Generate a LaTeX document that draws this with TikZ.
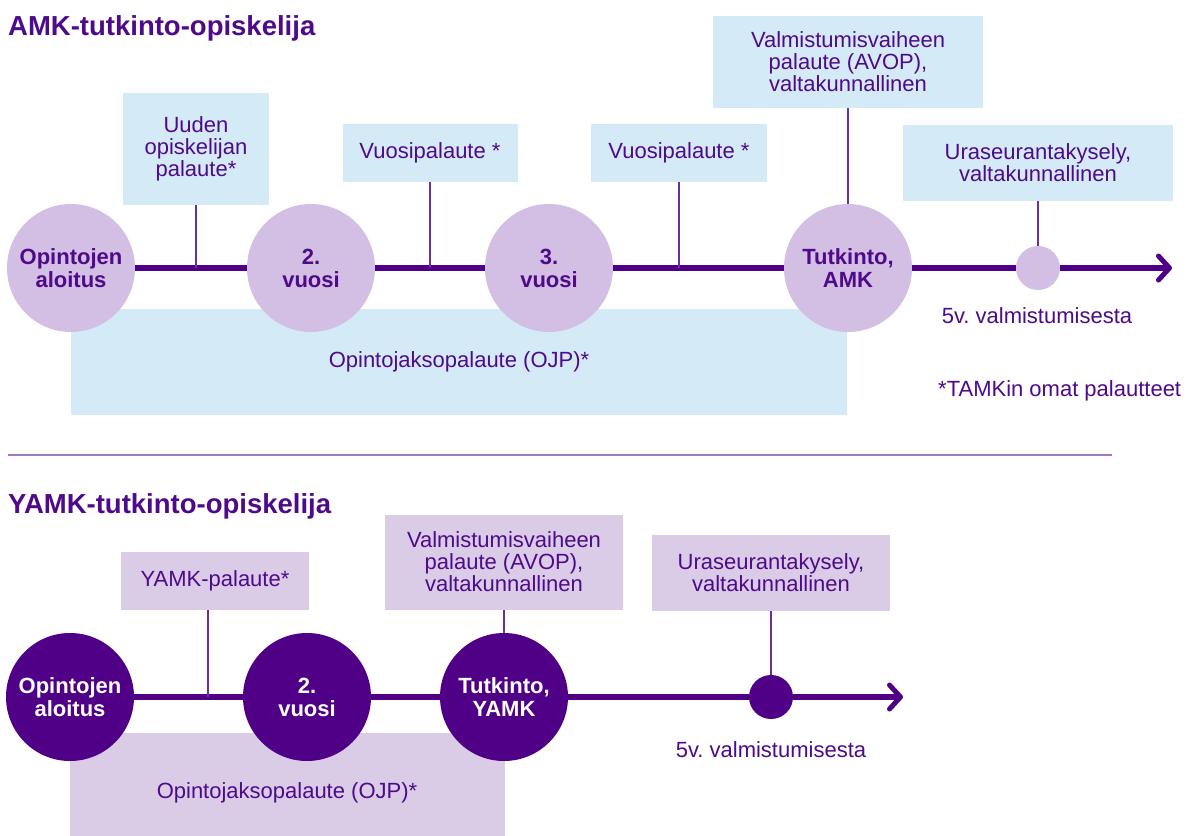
\documentclass[tikz,border=0pt]{standalone}
\usepackage{fontspec}
\setmainfont{Liberation Sans}
\usetikzlibrary{arrows.meta}
\definecolor{dpurple}{HTML}{4E0A8A}
\definecolor{circdark}{HTML}{4F0087}
\definecolor{circlight}{HTML}{D3BFE3}
\definecolor{boxblue}{HTML}{D5EAF7}
\definecolor{boxlilac}{HTML}{DACBE7}
\definecolor{connline}{HTML}{6A2E9E}
\definecolor{divline}{HTML}{9A7BC2}
\frenchspacing
\begin{document}
\begin{tikzpicture}[x=1pt,y=-1pt,
  title/.style={anchor=base west, font=\bfseries\fontsize{27.5}{30}\selectfont, text=dpurple, inner sep=0},
  fbox/.style={align=center, inner sep=0, text=dpurple, font=\fontsize{22}{22}\selectfont},
  bluebox/.style={fbox, fill=boxblue},
  lilacbox/.style={fbox, fill=boxlilac},
  milestone/.style={circle, minimum size=128pt, inner sep=0, align=center, font=\bfseries\fontsize{22}{23}\selectfont},
  lightms/.style={milestone, fill=circlight, text=dpurple},
  darkms/.style={milestone, fill=circdark, text=white},
  dot/.style={circle, minimum size=44pt, inner sep=0},
  timeline/.style={line width=5.5pt, draw=circdark},
  tip/.style={-{Straight Barb[length=11pt,width=24pt,line width=5pt,round]}},
  conn/.style={line width=2pt, draw=connline},
  note/.style={text=dpurple, font=\fontsize{22}{22}\selectfont, inner sep=0},
]
\useasboundingbox[fill=white] (0,0) rectangle (1204,835);

% ---------- AMK ----------
\node[title] (t1) at (8,35) {AMK-tutkinto-opiskelija};

\node[bluebox, minimum width=776pt, minimum height=106pt] (ojp1) at (459,362) {Opintojaksopalaute (OJP)*};

\node[bluebox, minimum width=146pt, minimum height=112pt] (b1) at (196,149) {Uuden\\opiskelijan\\palaute*};
\node[bluebox, minimum width=175pt, minimum height=58pt] (b2) at (430,153) {Vuosipalaute *};
\node[bluebox, minimum width=176pt, minimum height=58pt] (b3) at (679,153) {Vuosipalaute *};
\node[bluebox, minimum width=270pt, minimum height=92pt] (b4) at (848,62) {Valmistumisvaiheen\\palaute (AVOP),\\valtakunnallinen};
\node[bluebox, minimum width=270pt, minimum height=76pt] (b5) at (1038,163) {Uraseurantakysely,\\valtakunnallinen};

\node[lightms] (c1) at (71,268) {Opintojen\\aloitus};
\node[lightms] (c2) at (311,268) {2.\\vuosi};
\node[lightms] (c3) at (549,268) {3.\\vuosi};
\node[lightms] (c4) at (848,268) {Tutkinto,\\AMK};
\node[dot, fill=circlight] (s1) at (1038,268) {};
\coordinate (e1) at (1172,268);

\draw[timeline] (c1) -- (c2);
\draw[timeline] (c2) -- (c3);
\draw[timeline] (c3) -- (c4);
\draw[timeline] (c4) -- (s1);
\draw[timeline, tip] (s1) -- (e1);

\draw[conn] (b1) -- (b1 |- c1);
\draw[conn] (b2) -- (b2 |- c1);
\draw[conn] (b3) -- (b3 |- c1);
\draw[conn] (b4) -- (c4);
\draw[conn] (b5) -- (s1);

\node[note, anchor=base] (n1) at (1037,323) {5v. valmistumisesta};
\node[note, anchor=base west] (n2) at (938,396) {*TAMKin omat palautteet};

% divider
\coordinate (dl) at (8,455);
\coordinate (dr) at (1112,455);
\draw[line width=2.5pt, divline] (dl) -- (dr);

% ---------- YAMK ----------
\node[title] (t2) at (8,513) {YAMK-tutkinto-opiskelija};

\node[lilacbox, minimum width=435pt, minimum height=120pt] (ojp2) at (287,793) {Opintojaksopalaute (OJP)*};

\node[lilacbox, minimum width=188pt, minimum height=58pt] (y1) at (215,581) {YAMK-palaute*};
\node[lilacbox, minimum width=238pt, minimum height=95pt] (y2) at (504,562) {Valmistumisvaiheen\\palaute (AVOP),\\valtakunnallinen};
\node[lilacbox, minimum width=238pt, minimum height=76pt] (y3) at (771,573) {Uraseurantakysely,\\valtakunnallinen};

\node[darkms] (d1) at (70,697) {Opintojen\\aloitus};
\node[darkms] (d2) at (307,697) {2.\\vuosi};
\node[darkms] (d3) at (504,697) {Tutkinto,\\YAMK};
\node[dot, fill=circdark] (s2) at (771,697) {};
\coordinate (e2) at (903,697);
\coordinate (k1) at (208,697);

\draw[timeline] (d1) -- (d2);
\draw[timeline] (d2) -- (d3);
\draw[timeline] (d3) -- (s2);
\draw[timeline, tip] (s2) -- (e2);

\draw[conn] (y1.south -| k1) -- (k1);
\draw[conn] (y2) -- (d3);
\draw[conn] (y3) -- (s2);

\node[note, anchor=base] (n3) at (771,757) {5v. valmistumisesta};
\end{tikzpicture}
\end{document}
